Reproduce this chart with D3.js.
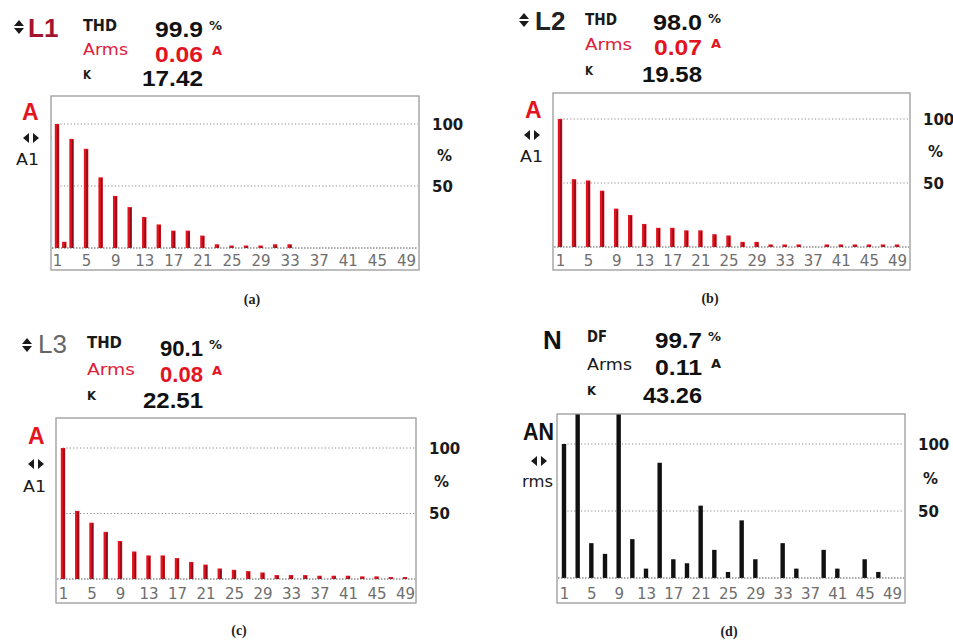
<!DOCTYPE html>
<html>
<head>
<meta charset="utf-8">
<script src="https://d3js.org/d3.v7.min.js"></script>
<style>
  body { margin: 0; background: #fff; }
  svg { display: block; }
</style>
</head>
<body>
<svg id="chart" width="953" height="644"></svg>
<script>
// harmonic orders 1..49 and the labelled ones
var orders = d3.range(1, 50);
var tickOrders = [1, 5, 9, 13, 17, 21, 25, 29, 33, 37, 41, 45, 49];

// harmonic levels in % of the reference (orders 1..49)
var l1Levels = [100, 5, 88, 0, 80, 0, 57, 0, 42, 0,
                33, 0, 25, 0, 19, 0, 14, 0, 14, 0,
                10, 0, 3, 0, 2, 0, 2, 0, 2, 0,
                3, 0, 3, 0, 0, 0, 0, 0, 0, 0,
                0, 0, 0, 0, 0, 0, 0, 0, 0];
var l2Levels = [100, 0, 53, 0, 52, 0, 44, 0, 30, 0,
                25, 0, 18, 0, 15, 0, 15, 0, 13, 0,
                13, 0, 10, 0, 9, 0, 4, 0, 4, 0,
                2, 0, 2, 0, 2, 0, 0, 0, 2, 0,
                2, 0, 2, 0, 2, 0, 2, 0, 2];
var l3Levels = [100, 0, 52, 0, 43, 0, 36, 0, 29, 0,
                21, 0, 18, 0, 18, 0, 16, 0, 13, 0,
                11, 0, 8, 0, 7, 0, 6, 0, 5, 0,
                3, 0, 3, 0, 3, 0, 2.5, 0, 2.5, 0,
                2.5, 0, 2, 0, 2, 0, 1.5, 0, 1.5];
var nLevels  = [100, 0, 140, 0, 26, 0, 18, 0, 150, 0,
                29, 0, 7, 0, 86, 0, 14, 0, 11, 0,
                54, 0, 21, 0, 4.5, 0, 43, 0, 14, 0,
                0, 0, 26, 0, 7, 0, 0, 0, 21, 0,
                7, 0, 0, 0, 14, 0, 4.5, 0, 0];

// header readings
var lineLabels = ['THD', 'Arms', 'K'];
var neutralLabels = ['DF', 'Arms', 'K'];
var readingUnits = ['%', 'A', ''];
var l1Readings = ['99.9', '0.06', '17.42'];
var l2Readings = ['98.0', '0.07', '19.58'];
var l3Readings = ['90.1', '0.08', '22.51'];
var nReadings  = ['99.7', '0.11', '43.26'];
var rightTicks = [50, 100];

var svg = d3.select('#chart');
var RED = '#e3141f';

var panels = [
  { id: 'a', levels: l1Levels, labels: lineLabels, readings: l1Readings, name: 'L1', nameColor: '#a5142c', nameBold: true,
    glyph: [19, 27], nameX: 28, nameY: 37, labX: 83, labY: [31, 55, 79], labW: [34, 45, 8],
    numX: 203, numY: [37, 62, 86], numW: [48, 48, 61], row2Red: true,
    frame: [51, 96, 419, 270], x1: 57, x49: 406, base: 248, top: 124,
    side: ['A', 'A1'], sideX: [22, 16], sideY: [120, 165], arrows: [31, 138], cursor: true,
    caption: '(a)', capX: 252, capY: 304 },
  { id: 'b', levels: l2Levels, labels: lineLabels, readings: l2Readings, name: 'L2', nameColor: '#222', nameBold: true,
    glyph: [524, 20], nameX: 535, nameY: 30, labX: 585, labY: [25, 50, 75], labW: [32, 47, 8],
    numX: 702, numY: [30, 55, 82], numW: [49, 48, 60], row2Red: true,
    frame: [553, 93, 910, 270], x1: 560, x49: 897, base: 247, top: 119,
    side: ['A', 'A1'], sideX: [525, 520], sideY: [118, 162], arrows: [532, 135],
    caption: '(b)', capX: 710, capY: 303 },
  { id: 'c', levels: l3Levels, labels: lineLabels, readings: l3Readings, name: 'L3', nameColor: '#666', nameBold: false,
    glyph: [27, 345], nameX: 38, nameY: 353, labX: 87, labY: [348, 375, 400], labW: [35, 48, 9],
    numX: 203, numY: [356, 382, 408], numW: [43, 43, 60], row2Red: true,
    frame: [56, 418, 416, 603], x1: 63, x49: 405, base: 579, top: 448,
    side: ['A', 'A1'], sideX: [28, 23], sideY: [444, 492], arrows: [36, 464],
    caption: '(c)', capX: 239, capY: 635 },
  { id: 'd', levels: nLevels, labels: neutralLabels, readings: nReadings, name: 'N', nameColor: '#111', nameBold: true,
    glyph: null, nameX: 543, nameY: 349, labX: 587, labY: [342, 370, 395], labW: [20, 45, 9],
    numX: 702, numY: [348, 375, 403], numW: [47, 47, 59], row2Red: false,
    frame: [557, 414, 905, 603], x1: 564, x49: 892, base: 578, top: 444,
    side: ['AN', 'rms'], sideX: [523, 522], sideY: [440, 487], arrows: [539, 461], black: true,
    caption: '(d)', capX: 729, capY: 636 }
];

panels.forEach(drawPanel);

function drawPanel(p) {
  var g = svg.append('g').attr('class', 'panel-' + p.id);
  var fx0 = p.frame[0], fy0 = p.frame[1], fx1 = p.frame[2], fy1 = p.frame[3];

  var x = d3.scaleLinear().domain([1, 49]).range([p.x1, p.x49]);
  var y = d3.scaleLinear().domain([0, 100]).range([p.base, p.top]);

  // frame
  g.append('rect')
    .attr('x', fx0).attr('y', fy0)
    .attr('width', fx1 - fx0).attr('height', fy1 - fy0)
    .attr('fill', '#fff').attr('stroke', '#9a9a9a').attr('stroke-width', 1.3);

  if (p.cursor) {
    g.append('line')
      .attr('x1', fx0 + 0.5).attr('x2', fx0 + 0.5)
      .attr('y1', y(87)).attr('y2', p.base)
      .attr('stroke', '#a9cde6').attr('stroke-width', 1.5);
  }

  // dotted grid at 50 and 100
  g.selectAll('line.grid').data(rightTicks).enter().append('line')
    .attr('class', 'grid')
    .attr('x1', x(1)).attr('x2', fx1 - 1)
    .attr('y1', function(d) { return y(d); }).attr('y2', function(d) { return y(d); })
    .attr('stroke', '#8a8a8a').attr('stroke-width', 1).attr('stroke-dasharray', '1.2,2.2');

  // bars, clipped to the frame
  g.append('clipPath').attr('id', 'clip-' + p.id)
    .append('rect').attr('x', fx0).attr('y', fy0 + 0.5).attr('width', fx1 - fx0).attr('height', fy1 - fy0);

  var bars = g.append('g').attr('clip-path', 'url(#clip-' + p.id + ')');
  var data = orders.map(function(h, i) { return { h: h, v: p.levels[i] }; })
    .filter(function(d) { return d.v > 0; });

  bars.selectAll('rect.bar').data(data).enter().append('rect')
    .attr('class', 'bar')
    .attr('x', function(d) { return x(d.h) - 2.2; })
    .attr('y', function(d) { return y(d.v); })
    .attr('width', 4.4)
    .attr('height', function(d) { return p.base - y(d.v); })
    .attr('fill', p.black ? '#111' : RED);

  if (!p.black) {
    bars.selectAll('rect.core').data(data).enter().append('rect')
      .attr('class', 'core')
      .attr('x', function(d) { return x(d.h) + 0.2; })
      .attr('y', function(d) { return y(d.v) + 1; })
      .attr('width', 1.5)
      .attr('height', function(d) { return Math.max(0, p.base - y(d.v) - 1); })
      .attr('fill', '#8c0a18');
  }

  // baseline
  g.append('line')
    .attr('x1', fx0 + 1).attr('x2', fx1 - 1)
    .attr('y1', p.base).attr('y2', p.base)
    .attr('stroke', '#555').attr('stroke-width', 1.2).attr('stroke-dasharray', '1.5,1.5');

  // harmonic order labels
  g.append('g')
    .attr('transform', 'translate(0,' + p.base + ')')
    .call(d3.axisBottom(x).tickValues(tickOrders).tickSize(0))
    .call(function(a) {
      a.select('.domain').remove();
      a.selectAll('text')
        .attr('y', fy1 - 4 - p.base).attr('dy', 0)
        .attr('fill', '#6e6e6e')
        .style('font-family', '"DejaVu Sans", Verdana, sans-serif')
        .style('font-size', '15px');
    });

  // right scale 50 / 100 %
  g.append('g')
    .attr('transform', 'translate(' + (fx1 + 13) + ',0)')
    .call(d3.axisRight(y).tickValues(rightTicks).tickSize(0).tickPadding(0))
    .call(function(a) {
      a.select('.domain').remove();
      a.selectAll('text')
        .attr('dy', '0.36em')
        .attr('fill', '#1a1a1a')
        .style('font-family', '"DejaVu Sans", Verdana, sans-serif')
        .style('font-weight', 'bold')
        .style('font-size', '15px');
    });
  g.append('text')
    .attr('x', fx1 + 18).attr('y', y(75) + 6)
    .attr('fill', '#1a1a1a')
    .style('font-family', '"DejaVu Sans", Verdana, sans-serif')
    .style('font-weight', 'bold').style('font-size', '15px')
    .text('%');

  // left side labels
  g.append('text')
    .attr('x', p.sideX[0]).attr('y', p.sideY[0])
    .attr('fill', p.black ? '#111' : RED)
    .attr('textLength', p.black ? 31 : null)
    .attr('lengthAdjust', 'spacingAndGlyphs')
    .style('font-family', '"Liberation Sans", Arial, sans-serif')
    .style('font-weight', 'bold').style('font-size', '23px')
    .text(p.side[0]);
  var ax = p.arrows[0], ay = p.arrows[1];
  g.append('path')
    .attr('d', 'M' + (ax - 8) + ',' + ay + ' L' + (ax - 2) + ',' + (ay - 5) + ' L' + (ax - 2) + ',' + (ay + 5) + ' Z' +
               ' M' + (ax + 8) + ',' + ay + ' L' + (ax + 2) + ',' + (ay - 5) + ' L' + (ax + 2) + ',' + (ay + 5) + ' Z')
    .attr('fill', '#1a1a1a');
  g.append('text')
    .attr('x', p.sideX[1]).attr('y', p.sideY[1])
    .attr('fill', '#1a1a1a')
    .attr('textLength', p.black ? 31 : 23)
    .attr('lengthAdjust', 'spacingAndGlyphs')
    .style('font-family', '"DejaVu Sans", Verdana, sans-serif')
    .style('font-size', '15px')
    .text(p.side[1]);

  // header: phase name and readings
  if (p.glyph) {
    var gx = p.glyph[0], gy = p.glyph[1];
    g.append('path')
      .attr('d', 'M' + (gx - 5) + ',' + (gy - 1) + ' L' + (gx + 5) + ',' + (gy - 1) + ' L' + gx + ',' + (gy - 7) + ' Z' +
                 ' M' + (gx - 5) + ',' + (gy + 1) + ' L' + (gx + 5) + ',' + (gy + 1) + ' L' + gx + ',' + (gy + 7) + ' Z')
      .attr('fill', '#1a1a1a');
  }
  g.append('text')
    .attr('x', p.nameX).attr('y', p.nameY)
    .attr('fill', p.nameColor)
    .style('font-family', '"Liberation Sans", Arial, sans-serif')
    .style('font-weight', p.nameBold ? 'bold' : 'normal')
    .style('font-size', '26px')
    .text(p.name);

  p.labels.forEach(function(lab, i) {
    var red = (i === 1 && p.row2Red);
    g.append('text')
      .attr('x', p.labX).attr('y', p.labY[i])
      .attr('fill', red ? '#e0203a' : '#1a1a1a')
      .attr('textLength', p.labW[i])
      .attr('lengthAdjust', 'spacingAndGlyphs')
      .style('font-family', '"DejaVu Sans", Verdana, sans-serif')
      .style('font-weight', i === 1 ? 'normal' : 'bold')
      .style('font-size', i === 2 ? '12px' : '15px')
      .text(lab);
    g.append('text')
      .attr('x', p.numX).attr('y', p.numY[i])
      .attr('text-anchor', 'end')
      .attr('fill', red ? RED : '#111')
      .attr('textLength', p.numW[i])
      .attr('lengthAdjust', 'spacingAndGlyphs')
      .style('font-family', '"Liberation Sans", Arial, sans-serif')
      .style('font-weight', 'bold').style('font-size', '22px')
      .text(p.readings[i]);
    if (readingUnits[i]) {
      g.append('text')
        .attr('x', p.numX + (i === 0 ? 6 : 9)).attr('y', p.numY[i] - 7)
        .attr('fill', red ? RED : '#1a1a1a')
        .style('font-family', '"DejaVu Sans", Verdana, sans-serif')
        .style('font-weight', 'bold').style('font-size', '13px')
        .text(readingUnits[i]);
    }
  });

  // sub-figure caption
  g.append('text')
    .attr('x', p.capX).attr('y', p.capY)
    .attr('text-anchor', 'middle')
    .attr('fill', '#222')
    .style('font-family', '"Liberation Serif", "Times New Roman", serif')
    .style('font-weight', 'bold').style('font-size', '14px')
    .text(p.caption);
}
</script>
</body>
</html>
